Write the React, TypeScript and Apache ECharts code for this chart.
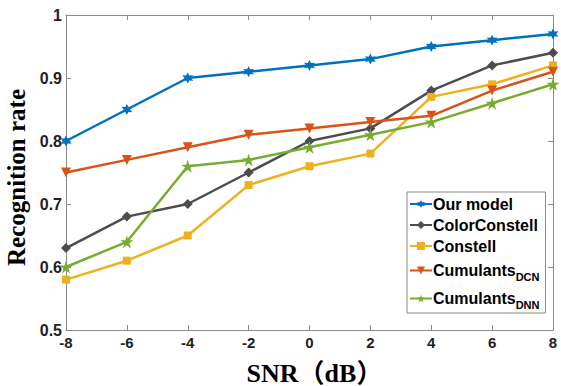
import React, { useEffect, useRef } from "react";
import * as echarts from "echarts";

const snr = [-8, -6, -4, -2, 0, 2, 4, 6, 8];
const ourModel = [0.8, 0.85, 0.9, 0.91, 0.92, 0.93, 0.95, 0.96, 0.97];
const colorConstell = [0.63, 0.68, 0.7, 0.75, 0.8, 0.82, 0.88, 0.92, 0.94];
const constell = [0.58, 0.61, 0.65, 0.73, 0.76, 0.78, 0.87, 0.89, 0.92];
const cumulantsDCN = [0.75, 0.77, 0.79, 0.81, 0.82, 0.83, 0.84, 0.88, 0.91];
const cumulantsDNN = [0.6, 0.64, 0.76, 0.77, 0.79, 0.81, 0.83, 0.86, 0.89];
const seriesNames = ["Our model", "ColorConstell", "Constell", "CumulantsDCN", "CumulantsDNN"];

const HEX = "path://M10 0L12.5 5.67L18.66 5L15 10L18.66 15L12.5 14.33L10 20L7.5 14.33L1.34 15L5 10L1.34 5L7.5 5.67Z";
const PENTA = "path://M10 0L12.245 6.91L19.51 6.91L13.63 11.18L15.88 18.09L10 13.82L4.12 18.09L6.37 11.18L0.49 6.91L7.755 6.91Z";

const SANS = "'Liberation Sans', Arial, sans-serif";
const SERIF = "'Liberation Serif', 'Times New Roman', 'Noto Sans CJK SC', serif";

export default function App() {
  const ref = useRef<HTMLDivElement>(null);
  useEffect(() => {
    if (!ref.current) return;
    const chart = echarts.init(ref.current, undefined, { renderer: "svg" });
    const mk = (name: string, data: number[], color: string, symbol: string, size: number, rotate = 0) => ({
      name,
      type: "line",
      data: snr.map((x, i) => [x, data[i]]),
      symbol,
      symbolSize: size,
      symbolRotate: rotate,
      lineStyle: { color, width: 2.5 },
      itemStyle: { color },
      emphasis: { disabled: true },
    });
    const axisLine = { show: true, onZero: false, lineStyle: { color: "#8a8a8a", width: 1 } };
    const axisTick = { show: true, inside: true, length: 5, lineStyle: { color: "#8a8a8a" } };
    chart.setOption({
      animation: false,
      grid: { left: 66, right: 8, top: 15, bottom: 56, containLabel: false, outerBoundsMode: "none" },
      legend: {
        orient: "vertical",
        left: 407,
        top: 192,
        data: seriesNames,
        backgroundColor: "#fff",
        borderColor: "#8a8a8a",
        borderWidth: 1,
        borderRadius: 0,
        padding: [4, 6, 3, 2],
        itemGap: 5,
        itemWidth: 22,
        itemHeight: 10,
        formatter: (n: string) => {
          if (n === "CumulantsDCN") return "{b|Cumulants}{s|DCN}";
          if (n === "CumulantsDNN") return "{b|Cumulants}{s|DNN}";
          return "{b|" + n + "}";
        },
        textStyle: {
          color: "#000",
          fontFamily: SANS,
          fontWeight: "bold",
          fontSize: 16,
          padding: [0, 0, 0, -4],
          rich: {
            b: { fontFamily: SANS, fontWeight: "bold", fontSize: 16, color: "#000", lineHeight: 17 },
            s: { fontFamily: SANS, fontWeight: "bold", fontSize: 11, color: "#000", padding: [12, 0, 0, 0], lineHeight: 17 },
          },
        },
      },
      xAxis: [
        {
          type: "value",
          min: -8,
          max: 8,
          interval: 2,
          position: "bottom",
          axisLine,
          axisTick,
          splitLine: { show: false },
          axisLabel: { color: "#222", fontFamily: SANS, fontWeight: "bold", fontSize: 15, margin: 5 },
          name: "SNR（dB）",
          nameLocation: "middle",
          nameGap: 30,
          nameTextStyle: { color: "#000", fontFamily: SERIF, fontWeight: "bold", fontSize: 26, padding: [0, 0, 0, 10] },
        },
        {
          type: "value",
          min: -8,
          max: 8,
          interval: 2,
          position: "top",
          axisLine,
          axisTick,
          splitLine: { show: false },
          axisLabel: { show: false },
        },
      ],
      yAxis: [
        {
          type: "value",
          min: 0.5,
          max: 1,
          interval: 0.1,
          position: "left",
          axisLine,
          axisTick,
          splitLine: { show: false },
          axisLabel: { color: "#222", fontFamily: SANS, fontWeight: "bold", fontSize: 16, margin: 4 },
          name: "Recognition rate",
          nameLocation: "middle",
          nameGap: 31,
          nameTextStyle: { color: "#000", fontFamily: SERIF, fontWeight: "bold", fontSize: 25, padding: [0, 10, 0, 0] },
        },
        {
          type: "value",
          min: 0.5,
          max: 1,
          interval: 0.1,
          position: "right",
          axisLine,
          axisTick,
          splitLine: { show: false },
          axisLabel: { show: false },
        },
      ],
      series: [
        mk("Our model", ourModel, "#0072BD", HEX, 11),
        mk("ColorConstell", colorConstell, "#4D4D4D", "diamond", 10),
        mk("Constell", constell, "#EDB120", "rect", 8),
        mk("CumulantsDCN", cumulantsDCN, "#D95319", "triangle", 10, 180),
        mk("CumulantsDNN", cumulantsDNN, "#77AC30", PENTA, 13),
      ],
    });
    return () => chart.dispose();
  }, []);
  return <div ref={ref} style={{ width: 561, height: 386, position: "absolute", left: 0, top: 0, background: "#fff" }} />;
}
